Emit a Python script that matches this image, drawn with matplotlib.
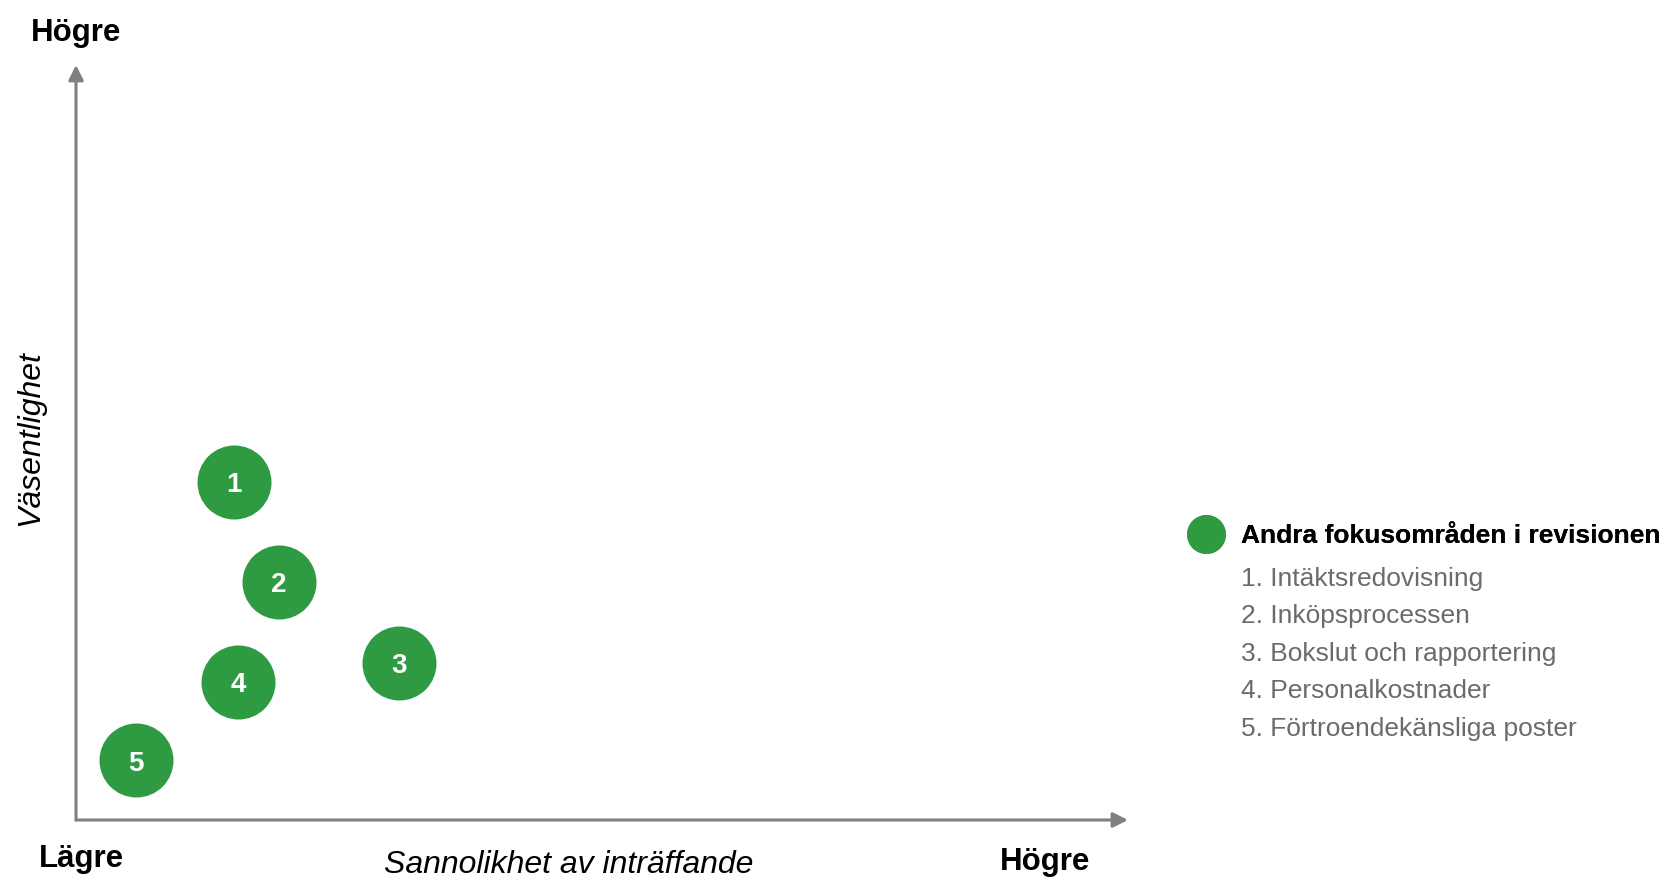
import numpy as np
import matplotlib.pyplot as plt
from matplotlib.lines import Line2D

plt.rcParams['font.family'] = ['Liberation Sans', 'DejaVu Sans']

# risk positions (percent of axis length)
labels = ['1', '2', '3', '4', '5']
sannolikhet = [15.0, 19.3, 30.7, 15.4, 5.7]
vasentlighet = [44.8, 31.5, 20.8, 18.3, 7.9]
legend_title = 'Andra fokusområden i revisionen'
items = ['1. Intäktsredovisning', '2. Inköpsprocessen', '3. Bokslut och rapportering',
         '4. Personalkostnader', '5. Förtroendekänsliga poster']

green = '#2e9a41'
grey = '#808080'

fig = plt.figure(figsize=(16.67, 8.77), dpi=100)
ax = fig.add_axes([0.0456, 0.065, 0.6311, 0.8609])
ax.set_xlim(0, 100)
ax.set_ylim(0, 100)
ax.axis('off')

# axis arrows
arrow = dict(arrowstyle='-|>,head_length=0.9,head_width=0.45', color=grey, lw=2.2,
             shrinkA=0, shrinkB=0)
ax.annotate('', xy=(1, 0), xytext=(0, 0), xycoords='axes fraction', arrowprops=arrow)
ax.annotate('', xy=(0, 1), xytext=(0, 0), xycoords='axes fraction', arrowprops=arrow)

ax.scatter(sannolikhet, vasentlighet, s=2840, color=green, zorder=3, linewidths=0)
for lab, x, y in zip(labels, sannolikhet, vasentlighet):
    ax.annotate(lab, (x, y), xytext=(0, -2.3), textcoords='offset points',
                color='white', fontsize=20, fontweight='bold',
                ha='center', va='center', zorder=4)

ax.text(0, 1.043, 'Högre', transform=ax.transAxes, fontsize=22.5, fontweight='bold',
        ha='center', va='center')
ax.text(0.005, -0.052, 'Lägre', transform=ax.transAxes, fontsize=22.5, fontweight='bold',
        ha='center', va='center')
ax.text(0.921, -0.056, 'Högre', transform=ax.transAxes, fontsize=22.5, fontweight='bold',
        ha='center', va='center')
ax.text(0.4686, -0.059, 'Sannolikhet av inträffande', transform=ax.transAxes,
        fontsize=23, style='italic', ha='center', va='center')
ax.text(-0.0437, 0.506, 'Väsentlighet', transform=ax.transAxes, fontsize=23,
        style='italic', rotation=90, ha='center', va='center')

# legend: title entry with dot, then the numbered list below it
handles = [Line2D([], [], marker='o', ls='', color=green, markersize=27)]
leg1 = fig.legend(handles, [legend_title], loc='upper left',
                  bbox_to_anchor=(1188 / 1667, 1 - 524 / 877), frameon=False,
                  fontsize=19, handlelength=1.4, handletextpad=0.59,
                  borderpad=0, borderaxespad=0)
leg1.get_texts()[0].set_fontweight('bold')

blank = [Line2D([], [], ls='', marker=None) for _ in items]
leg2 = fig.legend(blank, items, loc='upper left',
                  bbox_to_anchor=(1241 / 1667, 1 - 567 / 877), frameon=False,
                  fontsize=19, handlelength=0, handletextpad=0,
                  labelspacing=0.51, borderpad=0, borderaxespad=0)
for t in leg2.get_texts():
    t.set_color('#6b6b6b')
fig.add_artist(leg1)

fig.savefig('out.png', dpi=100)
